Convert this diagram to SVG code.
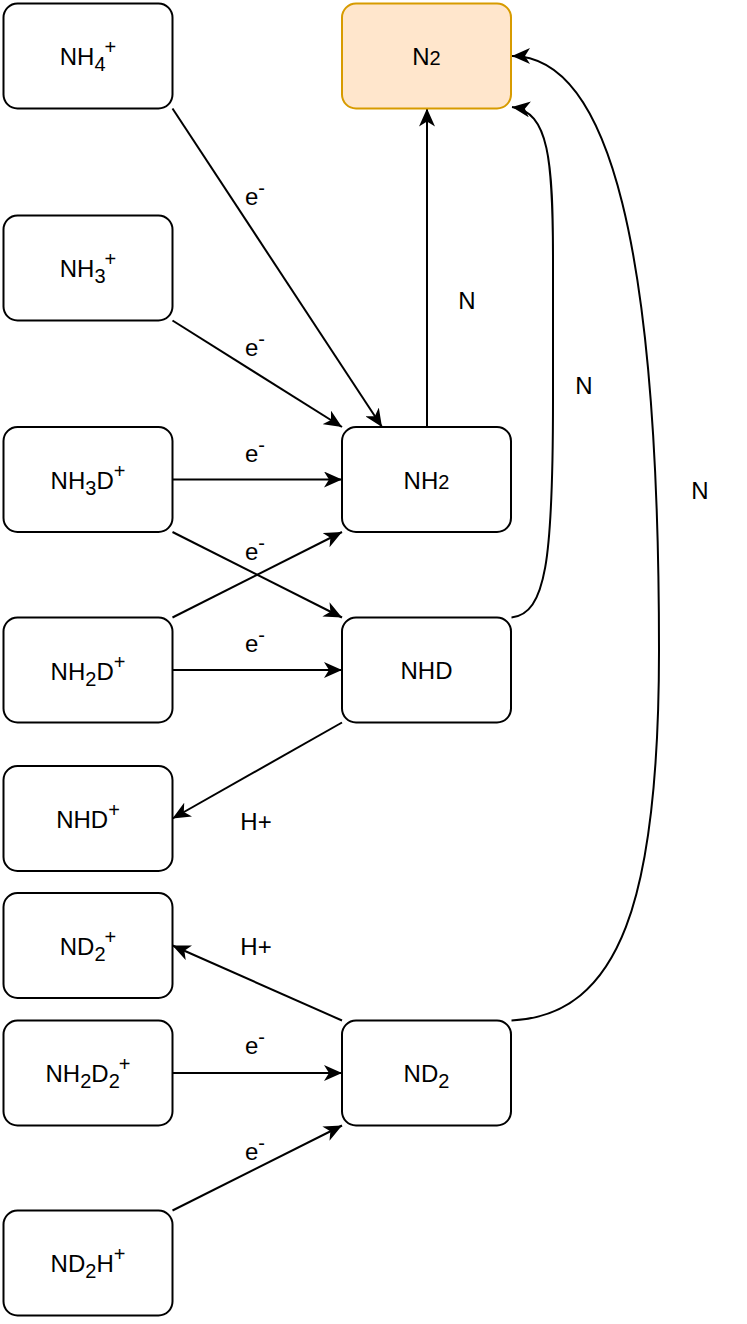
<svg xmlns="http://www.w3.org/2000/svg" width="747" height="1324" viewBox="0 0 747 1324">
<style>
.n rect{fill:#ffffff;stroke:#000000;stroke-width:2}
.n2 rect{fill:#ffe6cc;stroke:#d79b00;stroke-width:2}
text{font-family:"Liberation Sans",Arial,Helvetica,sans-serif;font-size:24px;fill:#000;text-anchor:middle}
.e path,.e line{fill:none;stroke:#000;stroke-width:2;marker-end:url(#arr)}
.sm{font-size:20px}
</style>
<defs>
<marker id="arr" markerUnits="userSpaceOnUse" markerWidth="20" markerHeight="16" viewBox="0 0 20 16" refX="18" refY="8" orient="auto">
<path d="M0,0 L18,8 L0,16 L5,8 Z" fill="#000" stroke="none"/>
</marker>
</defs>
<rect width="747" height="1324" fill="#ffffff"/>
<g id="edges" class="e">
<line x1="172.5" y1="108.5" x2="382" y2="427"/>
<line x1="172.5" y1="320.5" x2="342" y2="427"/>
<line x1="172.5" y1="479.5" x2="342" y2="479.5"/>
<line x1="172.5" y1="532" x2="342" y2="617.5"/>
<line x1="172.5" y1="617.5" x2="342" y2="532"/>
<line x1="172.5" y1="670" x2="342" y2="670"/>
<line x1="342" y1="722.5" x2="172.5" y2="818.5"/>
<line x1="342" y1="1020.5" x2="172.5" y2="945.5"/>
<line x1="172.5" y1="1073" x2="342" y2="1073"/>
<line x1="172.5" y1="1210.5" x2="342" y2="1125.5"/>
<line x1="427" y1="427" x2="427" y2="108.5"/>
<path d="M511.5,617.5 C546,614 553,560 553,400 L553,260 C553,160 549,112 512,107"/>
<path d="M511.5,1020.5 C620,1015 659,900 659,650 C659,250 610,56 512,56"/>
</g>
<g id="labels">
<text x="255" y="205">e<tspan class="sm" dy="-10">-</tspan></text>
<text x="255" y="356">e<tspan class="sm" dy="-10">-</tspan></text>
<text x="255" y="462">e<tspan class="sm" dy="-10">-</tspan></text>
<text x="255" y="560">e<tspan class="sm" dy="-10">-</tspan></text>
<text x="255" y="652">e<tspan class="sm" dy="-10">-</tspan></text>
<text x="256" y="830">H+</text>
<text x="256" y="955">H+</text>
<text x="255" y="1054">e<tspan class="sm" dy="-10">-</tspan></text>
<text x="255" y="1160">e<tspan class="sm" dy="-10">-</tspan></text>
<text x="467" y="309">N</text>
<text x="584" y="394">N</text>
<text x="700" y="499">N</text>
</g>
<g id="NH4p" class="n"><rect x="3.5" y="3.5" width="169" height="105" rx="14"/><text x="88" y="65">NH<tspan class="sm" dy="6">4</tspan><tspan class="sm" dx="-1" dy="-17">+</tspan></text></g>
<g id="NH3p" class="n"><rect x="3.5" y="215.5" width="169" height="105" rx="14"/><text x="88" y="277">NH<tspan class="sm" dy="6">3</tspan><tspan class="sm" dx="-1" dy="-17">+</tspan></text></g>
<g id="NH3Dp" class="n"><rect x="3.5" y="427" width="169" height="105" rx="14"/><text x="88" y="489">NH<tspan class="sm" dy="6">3</tspan><tspan dy="-6">D</tspan><tspan class="sm" dy="-11">+</tspan></text></g>
<g id="NH2Dp" class="n"><rect x="3.5" y="617.5" width="169" height="105" rx="14"/><text x="88" y="680">NH<tspan class="sm" dy="6">2</tspan><tspan dy="-6">D</tspan><tspan class="sm" dy="-11">+</tspan></text></g>
<g id="NHDp" class="n"><rect x="3.5" y="766" width="169" height="105" rx="14"/><text x="88" y="828">NHD<tspan class="sm" dy="-11">+</tspan></text></g>
<g id="ND2p" class="n"><rect x="3.5" y="893" width="169" height="105" rx="14"/><text x="88" y="955">ND<tspan class="sm" dy="6">2</tspan><tspan class="sm" dx="-1" dy="-17">+</tspan></text></g>
<g id="NH2D2p" class="n"><rect x="3.5" y="1020.5" width="169" height="105" rx="14"/><text x="88" y="1082">NH<tspan class="sm" dy="6">2</tspan><tspan dy="-6">D</tspan><tspan class="sm" dy="6">2</tspan><tspan class="sm" dx="-1" dy="-17">+</tspan></text></g>
<g id="ND2Hp" class="n"><rect x="3.5" y="1210.5" width="169" height="105" rx="14"/><text x="88" y="1272">ND<tspan class="sm" dy="6">2</tspan><tspan dy="-6">H</tspan><tspan class="sm" dy="-11">+</tspan></text></g>
<g id="N2" class="n2"><rect x="342" y="3.5" width="169" height="105" rx="14"/><text x="426.5" y="65">N<tspan class="sm">2</tspan></text></g>
<g id="NH2" class="n"><rect x="342" y="427" width="169" height="105" rx="14"/><text x="426.5" y="489">NH<tspan class="sm">2</tspan></text></g>
<g id="NHD" class="n"><rect x="342" y="617.5" width="169" height="105" rx="14"/><text x="426.5" y="679">NHD</text></g>
<g id="ND2" class="n"><rect x="342" y="1020.5" width="169" height="105" rx="14"/><text x="426.5" y="1082">ND<tspan class="sm" dy="6">2</tspan></text></g>
</svg>
